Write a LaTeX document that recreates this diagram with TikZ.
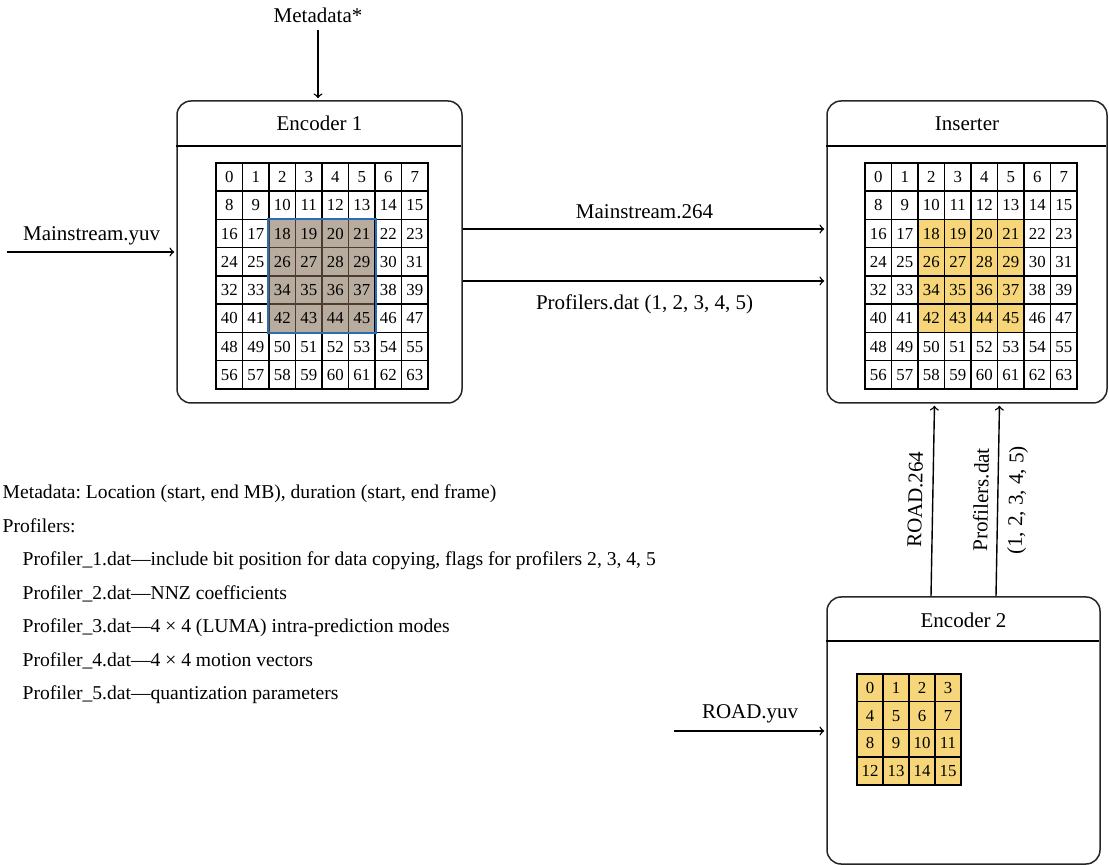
\documentclass[tikz,border=0pt]{standalone}
\usepackage{fontspec}
\setmainfont{Liberation Serif}
\usetikzlibrary{positioning}
\frenchspacing

\definecolor{roifill}{HTML}{B8AC9E}
\definecolor{roiedge}{HTML}{4A3C30}
\definecolor{roiblue}{HTML}{2A6DB5}
\definecolor{mbyellow}{HTML}{F6D679}

\begin{document}
\begin{tikzpicture}[x=0.5pt,y=-0.5pt,>=to,shorten >=1pt,line width=0.7pt,
    font=\fontsize{10.5}{12.6}\selectfont,
    unit/.style={draw=black!85,line width=0.75pt,rounded corners=7pt,inner sep=0pt},
    mb/.style={draw,minimum width=13.25pt,minimum height=14.1pt,inner sep=0pt,
      line width=0.75pt,font=\fontsize{8.4}{9}\selectfont},
    note/.style={anchor=base west,inner sep=0pt,font=\fontsize{9.8}{11}\selectfont}]
   \clip (0,0) rectangle (1109,865);

   % the three units
   \node[unit,minimum width=142.5pt,minimum height=151pt] (enc_1) at (319.5,252) {};
   \node[unit,minimum width=140pt,minimum height=151pt] (ins) at (967,252) {};
   \node[unit,minimum width=136.5pt,minimum height=133.5pt] (enc_2) at (963.5,730.5) {};
   \node (enc_1_title) at ([yshift=-11.5pt]enc_1.north) {Encoder 1};
   \node (ins_title) at ([yshift=-11.5pt]ins.north) {Inserter};
   \node (enc_2_title) at ([yshift=-12pt]enc_2.north) {Encoder 2};
   \draw[line width=0.75pt] ([yshift=-23pt]enc_1.north west) -- ([yshift=-23pt]enc_1.north east);
   \draw[line width=0.75pt] ([yshift=-23pt]ins.north west) -- ([yshift=-23pt]ins.north east);
   \draw[line width=0.75pt] ([yshift=-22.5pt]enc_2.north west) -- ([yshift=-22.5pt]enc_2.north east);

   % macroblock maps, 8x8 with the 4x4 region in the middle
   \foreach \r in {0,...,7}
     \foreach \c in {0,...,7}{
       \pgfmathtruncatemacro\n{8*\r+\c}
       \pgfmathtruncatemacro\roi{(\r>1)*(\r<6)*(\c>1)*(\c<6)}
       \ifnum\roi=1
         \node[mb,fill=roifill,draw=roiedge] (e1_\n) at (229.25+26.5*\c,177.1+28.25*\r) {\n};
         \node[mb,fill=mbyellow] (ins_\n) at (878.25+26.5*\c,177.1+28.25*\r) {\n};
       \else
         \node[mb] (e1_\n) at (229.25+26.5*\c,177.1+28.25*\r) {\n};
         \node[mb] (ins_\n) at (878.25+26.5*\c,177.1+28.25*\r) {\n};
       \fi
     }
   \draw[roiblue,line width=1.1pt] (e1_18.north west) rectangle (e1_45.south east);
   \foreach \r in {0,...,3}
     \foreach \c in {0,...,3}{
       \pgfmathtruncatemacro\n{4*\r+\c}
       \node[mb,fill=mbyellow,minimum width=13pt,minimum height=13.9pt] (e2_\n) at (870+26*\c,687.9+27.75*\r) {\n};
     }

   % inputs and streams
   \node (meta) at (318,15) {Metadata*};
   \coordinate (yuv_in) at (7,252);
   \coordinate (road_in) at (674,731);
   \draw[->] (meta) -- (meta |- enc_1.north);
   \draw[->] (yuv_in) -- (yuv_in -| enc_1.west)
      node[midway,above] {Mainstream.yuv};
   \draw[->] ([yshift=11.5pt]enc_1.east) -- ([yshift=11.5pt]ins.west)
      node[midway,above=1.5pt] {Mainstream.264};
   \draw[->] ([yshift=-14.5pt]enc_1.east) -- ([yshift=-14.5pt]ins.west)
      node[midway,below=3pt] {Profilers.dat (1, 2, 3, 4, 5)};
   \draw[->] (road_in) -- (road_in -| enc_2.west)
      node[midway,above=0.5pt] {ROAD.yuv};
   \draw[->] ([xshift=-16.25pt]enc_2.north) -- ([xshift=-16.25pt]ins.south)
      node[midway,sloped,above=1.5pt] {ROAD.264};
   \draw[->] ([xshift=16.25pt]enc_2.north) -- ([xshift=16.25pt]ins.south)
      node[midway,sloped,above=1pt] {Profilers.dat}
      node[midway,sloped,below=1.5pt] {(1, 2, 3, 4, 5)};

   % notes
   \node[note] (note_meta) at (2,499) {Metadata: Location (start, end MB), duration (start, end frame)};
   \node[note] (note_prof) at (2,532.5) {Profilers:};
   \node[note] (prof_1) at (22,566) {Profiler\_1.dat---include bit position for data copying, flags for profilers 2, 3, 4, 5};
   \node[note] (prof_2) at (22,599.5) {Profiler\_2.dat---NNZ coefficients};
   \node[note] (prof_3) at (22,633) {Profiler\_3.dat---4 × 4 (LUMA) intra-prediction modes};
   \node[note] (prof_4) at (22,666.5) {Profiler\_4.dat---4 × 4 motion vectors};
   \node[note] (prof_5) at (22,700) {Profiler\_5.dat---quantization parameters};
\end{tikzpicture}
\end{document}
